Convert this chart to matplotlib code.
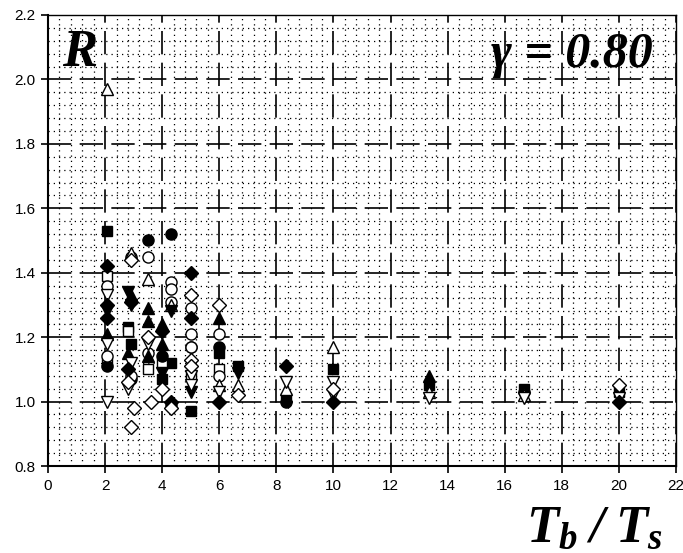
import matplotlib
matplotlib.use('Agg')
import matplotlib.pyplot as plt
from matplotlib.ticker import MultipleLocator

plt.rcParams['font.family'] = ['Liberation Sans', 'DejaVu Sans']
plt.rcParams['mathtext.fontset'] = 'custom'
plt.rcParams['mathtext.it'] = 'Liberation Serif:italic:bold'
plt.rcParams['mathtext.rm'] = 'Liberation Serif:italic:bold'
plt.rcParams['mathtext.bf'] = 'Liberation Serif:italic:bold'

# %% data
fsq_x = [2.08, 2.8, 2.9, 4.3, 4.0, 5.0, 6.0, 6.67, 8.33, 10, 13.33, 16.67, 20]
fsq_y = [1.53, 1.23, 1.18, 1.12, 1.07, 0.97, 1.15, 1.11, 1.01, 1.10, 1.05, 1.04, 1.03]

osq_x = [2.08, 2.08, 2.8, 3.5, 4.0, 5.0, 6.0]
osq_y = [1.39, 1.12, 1.22, 1.10, 1.12, 1.08, 1.10]

fci_x = [3.5, 4.3, 2.08, 4.0, 4.3, 5.0, 6.0, 8.33, 16.67, 2.9]
fci_y = [1.50, 1.52, 1.11, 1.14, 0.99, 1.17, 1.17, 1.00, 1.03, 1.07]

oci_x = [2.9, 3.5, 4.3, 4.3, 2.08, 2.08, 3.5, 5.0, 5.0, 5.0, 6.0, 2.9, 6.0, 4.3]
oci_y = [1.45, 1.45, 1.37, 1.35, 1.36, 1.14, 1.15, 1.21, 1.17, 1.29, 1.21, 1.08, 1.08, 1.31]

ftu_x = [2.08, 2.9, 3.5, 3.5, 4.0, 6.0, 13.33, 2.8, 3.5, 4.0]
ftu_y = [1.21, 1.33, 1.29, 1.25, 1.24, 1.26, 1.08, 1.15, 1.14, 1.18]

otu_x = [2.08, 2.9, 3.5, 4.3, 10, 6.0, 13.33, 16.67, 6.67, 8.33]
otu_y = [1.97, 1.46, 1.38, 1.30, 1.17, 1.05, 1.03, 1.02, 1.05, 1.04]

ftd_x = [2.08, 2.8, 2.9, 4.3, 4.0, 5.0, 6.67]
ftd_y = [1.28, 1.34, 1.30, 1.28, 1.09, 1.03, 1.09]

otd_x = [2.08, 2.08, 2.9, 2.8, 3.5, 5.0, 5.0, 6.0, 8.33, 10, 10, 13.33, 16.67, 20, 2.08]
otd_y = [1.33, 1.18, 1.12, 1.04, 1.18, 1.08, 1.05, 1.03, 1.06, 1.06, 1.02, 1.01, 1.01, 1.01, 1.00]

fdi_x = [2.08, 2.08, 2.9, 2.8, 4.0, 5.0, 5.0, 6.0, 8.33, 10, 20, 4.3, 2.08]
fdi_y = [1.42, 1.26, 1.31, 1.10, 1.22, 1.40, 1.26, 1.00, 1.11, 1.00, 1.00, 1.00, 1.30]

odi_x = [2.9, 2.9, 3.0, 2.8, 3.5, 3.6, 4.0, 4.3, 5.0, 5.0, 6.0, 6.67, 10, 20, 5.0]
odi_y = [1.44, 0.92, 0.98, 1.06, 1.20, 1.00, 1.04, 0.98, 1.33, 1.13, 1.30, 1.02, 1.04, 1.05, 1.11]

x_ticks = [0, 2, 4, 6, 8, 10, 12, 14, 16, 18, 20, 22]
y_ticks = [0.8, 1.0, 1.2, 1.4, 1.6, 1.8, 2.0, 2.2]

# %% plot
fig = plt.figure(figsize=(6.83, 5.53), dpi=100)
ax = fig.add_axes([0.0703, 0.1573, 0.9195, 0.8156])

ax.set_xlim(0, 22)
ax.set_ylim(0.8, 2.2)
ax.xaxis.set_minor_locator(MultipleLocator(0.4))
ax.yaxis.set_minor_locator(MultipleLocator(0.04))
ax.set_xticks(x_ticks)
ax.set_yticks(y_ticks)
ax.set_xticklabels([str(t) for t in x_ticks])
ax.set_yticklabels(['%.1f' % t for t in y_ticks])

ax.grid(which='minor', color='black', lw=0.9, linestyle=(0, (1, 3.2)))
ax.grid(which='major', color='black', lw=1.2, linestyle=(0, (14, 5)))
ax.set_axisbelow(True)

ax.tick_params(which='minor', length=0)
ax.tick_params(which='major', direction='out', length=5, width=1.2, labelsize=11, pad=4)
for sp in ax.spines.values():
    sp.set_linewidth(1.0)
ax.spines['left'].set_linewidth(1.5)
ax.spines['bottom'].set_linewidth(1.5)

ms = 8
kw = dict(ls='none', mec='black', mew=1.0, zorder=3, clip_on=False)
ax.plot(fsq_x, fsq_y, 's', mfc='black', ms=ms - 1, **kw)
ax.plot(osq_x, osq_y, 's', mfc='white', ms=ms - 1, **kw)
ax.plot(fci_x, fci_y, 'o', mfc='black', ms=ms, **kw)
ax.plot(oci_x, oci_y, 'o', mfc='white', ms=ms, **kw)
ax.plot(ftu_x, ftu_y, '^', mfc='black', ms=ms, **kw)
ax.plot(otu_x, otu_y, '^', mfc='white', ms=ms, **kw)
ax.plot(ftd_x, ftd_y, 'v', mfc='black', ms=ms, **kw)
ax.plot(otd_x, otd_y, 'v', mfc='white', ms=ms, **kw)
ax.plot(fdi_x, fdi_y, 'D', mfc='black', ms=ms - 1, **kw)
ax.plot(odi_x, odi_y, 'D', mfc='white', ms=ms - 1, **kw)

ax.text(0.051, 0.915, 'R', transform=ax.transAxes, family='Liberation Serif',
        weight='bold', style='italic', fontsize=38, ha='center', va='center')
ax.text(0.963, 0.912, 'γ = 0.80', transform=ax.transAxes, family='Liberation Serif',
        weight='bold', style='italic', fontsize=36, ha='right', va='center')
fig.text(0.97, 0.0, r'$T_b\;/\;T_s$', fontsize=38, ha='right', va='bottom')

fig.savefig('out.png', dpi=100, facecolor='white')
